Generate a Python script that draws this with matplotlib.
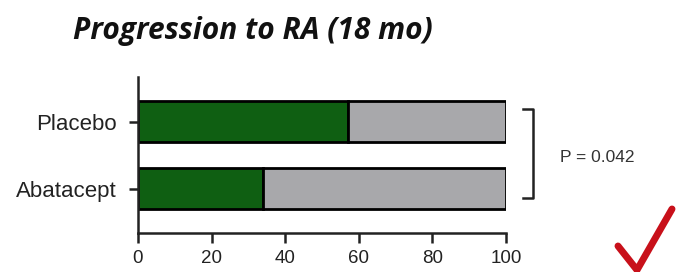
import matplotlib.pyplot as plt
from matplotlib.lines import Line2D

groups = ['Abatacept', 'Placebo']
progressed = [34, 57]
total = [100, 100]
ticks = [0, 20, 40, 60, 80, 100]
p_text = 'P = 0.042'

green = '#0f5f12'
gray = '#a8a8ab'

fig = plt.figure(figsize=(6.81, 2.72), dpi=100)
ax = fig.add_axes([0.2026, 0.1434, 0.5404, 0.5736])

pos = range(len(groups))
rest = [t - p for t, p in zip(total, progressed)]
ax.barh(pos, progressed, height=0.61, color=green, edgecolor='black', linewidth=2)
ax.barh(pos, rest, left=progressed, height=0.61, color=gray, edgecolor='black', linewidth=2)

ax.set_xlim(0, 100)
ax.set_ylim(-0.66, 1.67)
ax.set_xticks(ticks)
ax.set_yticks(list(pos))
ax.set_yticklabels(groups, fontsize=16, family='Liberation Sans')
ax.set_xticklabels([str(t) for t in ticks], fontsize=13.5, family='Liberation Sans')
ax.tick_params(axis='y', width=1.8, length=6.5, pad=8.5, colors='#222222')
ax.tick_params(axis='x', width=1.8, length=7, pad=5.5, colors='#222222')
for s in ['top', 'right']:
    ax.spines[s].set_visible(False)
for s in ['left', 'bottom']:
    ax.spines[s].set_linewidth(1.8)
    ax.spines[s].set_color('#222222')

fig.text(0.3715, 0.885, 'Progression to RA (18 mo)', ha='center', va='center',
         fontsize=21.5, fontweight='bold', fontstyle='italic', family='Open Sans',
         color='#111111')

# bracket
px = lambda x: x / 681
py = lambda y: 1 - y / 272
fig.add_artist(Line2D([px(523), px(533), px(533), px(523)],
                      [py(109), py(109), py(198), py(198)],
                      color='#222222', linewidth=1.8))
fig.text(px(597), py(157), p_text, ha='center', va='center', fontsize=12.5,
         family='Liberation Sans', color='#333333')

# check mark
fig.add_artist(Line2D([px(618), px(637), px(672)], [py(246), py(270), py(209)],
                      color='#c8101a', linewidth=5, solid_capstyle='round',
                      solid_joinstyle='miter'))

fig.savefig('out.png', dpi=100)
